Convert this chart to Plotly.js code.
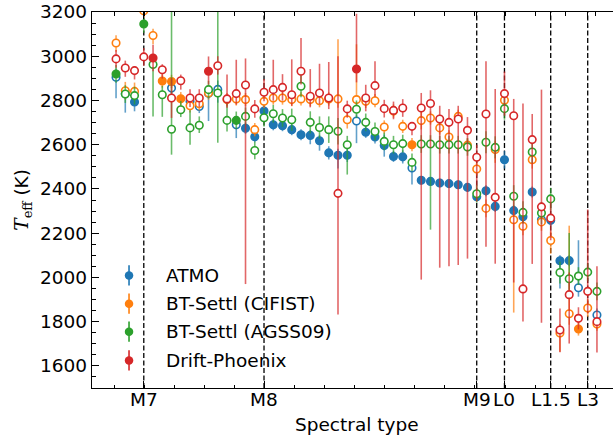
<!DOCTYPE html>
<html><head><meta charset="utf-8">
<script src="https://cdn.plot.ly/plotly-3.0.1.min.js"></script>
<style>html,body{margin:0;padding:0;overflow:hidden;background:#fff;}#chart{width:640px;height:439px;}</style>
</head><body><div id="chart"></div>
<script>
// object index along x (objects sorted by spectral type)
const idx = Array.from({length:53},(_,i)=>i);
const spTickPos = [3,16,39,42,47,51];
const spTickText = ['M7','M8','M9','L0','L1.5','L3'];

const atmo = [2905,2830,2793,null,null,null,2856,null,2796,2773,2832,2850,null,2690,2674,2636,2752,2690,2686,2668,2645,2642,2618,2563,2552,2552,2707,2656,2635,2596,2547,2545,2495,2439,2434,2427,2424,2419,2407,2365,2392,2321,2532,2302,2274,2386,2261,2258,2075,2076,1953,null,1830];
const atmoUp = [40,30,30,0,0,0,30,0,30,30,30,40,0,20,25,25,25,25,25,25,25,25,25,30,30,30,30,25,30,50,25,30,30,20,20,20,20,20,20,20,25,25,40,25,25,25,30,25,25,25,215,0,30];
const atmoDn = [95,85,42,0,0,0,30,0,30,30,125,60,0,60,25,25,25,25,25,25,25,40,45,30,60,30,100,25,30,50,25,30,75,20,20,20,20,20,20,20,25,25,40,25,25,25,30,25,125,25,40,0,30];
const atmoFill = [0,0,1,0,0,0,0,0,0,0,0,0,0,0,1,1,1,1,1,1,1,1,1,1,1,1,0,1,1,1,1,1,0,1,1,1,1,1,1,1,1,1,1,1,1,1,0,1,1,1,0,0,0];

const cif = [3060,2844,2841,3205,3094,2888,2886,2808,2776,2785,2834,null,2804,2807,2804,2668,2796,2811,2811,2804,2807,2804,2799,2807,2807,2713,2804,2796,2799,2680,2752,2683,2600,2709,2721,2676,2635,2728,2598,2490,2312,2578,2801,2261,2231,2532,2251,2167,1749,1836,1767,1862,1789];
const cifUp = [35,40,40,30,30,30,30,30,30,30,30,0,30,30,30,30,30,30,30,30,30,30,30,30,270,40,250,30,30,30,30,30,30,40,30,30,30,30,30,30,40,40,30,40,40,40,40,40,40,398,30,40,30];
const cifDn = [40,40,40,30,40,30,30,30,30,30,30,0,30,30,30,30,30,30,30,30,30,30,30,30,40,40,30,30,30,30,30,30,30,40,30,30,30,30,30,30,40,60,30,420,40,40,40,60,85,50,30,40,30];
const cifFill = [0,0,0,0,0,1,1,1,0,0,0,0,0,0,0,0,0,0,0,0,0,0,0,0,0,0,0,0,0,0,0,0,1,0,0,0,0,0,0,0,0,0,0,0,0,0,0,0,0,0,1,0,0];

const ags = [2920,2829,2822,3146,2963,2826,2670,2758,2676,2688,2849,2834,2710,2710,2728,2574,2722,2740,2721,2713,2864,2701,2678,2668,2661,2600,2760,2701,2660,2615,2600,2605,2520,2603,2603,2600,2600,2600,2590,2378,2611,2588,2763,2367,2294,2567,2291,2355,2022,1994,2006,2024,1937];
const agsUp = [40,40,40,27,40,40,530,40,80,40,40,370,80,40,40,40,40,40,40,50,50,50,50,60,60,40,40,40,40,40,40,40,40,40,40,40,40,40,40,40,50,50,50,50,50,50,50,50,50,207,40,40,40];
const agsDn = [40,40,40,40,235,100,115,33,76,35,40,225,50,40,40,40,40,40,40,50,50,50,50,60,60,135,40,40,40,40,40,40,40,40,387,40,40,40,40,40,50,50,50,50,50,50,50,50,50,50,40,40,40];
const agsFill = [1,0,0,1,0,0,0,0,0,0,0,0,0,1,0,0,0,0,0,0,0,0,0,0,0,0,0,0,0,0,0,0,0,0,0,0,0,0,0,0,0,0,0,0,0,0,0,0,0,0,0,0,0];

const dp = [2988,2947,2935,2997,2992,2939,2811,2889,2811,2811,2932,2957,2807,2831,2870,2762,2837,2849,2859,2826,2932,2819,2834,2811,2380,2762,2942,2811,2867,2763,2755,2766,2683,2766,2786,2716,2701,2716,2665,2543,2739,2362,2831,2731,1948,2623,2319,2268,1762,1922,1815,1937,1800];
const dpUp = [40,33,20,40,60,25,90,28,40,40,67,43,110,153,120,40,60,135,60,160,150,123,132,163,620,37,250,60,110,40,40,40,20,68,60,60,60,60,60,57,238,490,100,76,838,116,530,100,97,100,50,370,250];
const dpDn = [40,40,40,40,60,40,90,40,40,40,60,40,40,50,900,40,40,50,60,50,60,50,50,50,548,40,60,60,50,40,40,40,40,776,200,672,651,660,580,200,600,300,100,754,147,562,524,100,100,221,50,100,139];
const dpFill = [0,0,0,0,1,0,0,0,0,0,1,0,0,0,0,0,0,0,0,0,0,0,0,0,0,0,1,0,0,0,0,0,0,0,0,0,0,0,0,0,0,0,0,0,0,0,0,0,0,0,0,0,0];

const names = ['ATMO','BT-Settl (CIFIST)','BT-Settl (AGSS09)','Drift-Phoenix'];
const colors = ['#1f77b4','#ff7f0e','#2ca02c','#d62728'];
const barColors = ['rgba(31,119,180,0.7)','rgba(255,127,14,0.7)','rgba(44,160,44,0.7)','rgba(214,39,40,0.7)'];
const series = [[atmo,atmoUp,atmoDn,atmoFill],[cif,cifUp,cifDn,cifFill],[ags,agsUp,agsDn,agsFill],[dp,dpUp,dpDn,dpFill]];

const traces = series.map((s,k)=>({
  type:'scatter', mode:'markers', x:idx, y:s[0], name:names[k], showlegend:false,
  marker:{symbol:'circle', size:7.5, color:s[3].map(f=>f?colors[k]:'#ffffff'), line:{color:colors[k], width:1.6}},
  error_y:{type:'data', symmetric:false, array:s[1], arrayminus:s[2], color:barColors[k], thickness:1.6, width:0},
  hoverinfo:'skip'
}));

// manual legend on an overlay axis (fractions of the plot area)
const legY = [0.2995,0.2242,0.1497,0.0734];
names.forEach((n,k)=>{
  traces.push({type:'scatter', mode:'markers', xaxis:'x2', yaxis:'y2', x:[0.07], y:[legY[k]], showlegend:false,
    marker:{symbol:'circle', size:8.5, color:colors[k], line:{width:0}},
    error_y:{type:'data', array:[0.027], color:colors[k], thickness:1.6, width:0}, hoverinfo:'skip'});
});
const axFont = {family:'DejaVu Sans', size:18.5, color:'#000'};
const annotations = names.map((n,k)=>({xref:'paper', yref:'paper', x:0.136, y:legY[k], xanchor:'left', yanchor:'middle',
  text:n, showarrow:false, font:axFont}));
// spectral-type tick labels, placed at the tick positions on the x scale
spTickPos.forEach((v,k)=>annotations.push({xref:'x', yref:'paper', x:v, y:-0.031, xanchor:'center', yanchor:'middle',
  text:spTickText[k], showarrow:false, font:axFont}));
annotations.push({xref:'paper', yref:'paper', x:0.5, y:-0.098, xanchor:'center', yanchor:'middle', text:'Spectral type',
  showarrow:false, font:axFont});
annotations.push({xref:'paper', yref:'paper', x:-0.131, y:0.5, xanchor:'center', yanchor:'middle', textangle:-90,
  text:"<span style=\"font-family:'DejaVu Serif'\"><i>T</i><sub>eff</sub></span> (K)",
  showarrow:false, font:axFont});

const shapes = spTickPos.map(v=>({type:'line', xref:'x', yref:'paper', x0:v, x1:v, y0:0, y1:1, layer:'below',
  line:{color:'#000', width:1.3, dash:'5px,2.5px'}}));

const layout = {
  width:640, height:439, margin:{l:92, r:19, t:12, b:51},
  paper_bgcolor:'#fff', plot_bgcolor:'#fff', showlegend:false,
  xaxis:{range:[-2.6,54.6], tickmode:'array', tickvals:spTickPos, ticktext:spTickText, showticklabels:false,
    ticks:'inside', ticklen:7, tickwidth:1, tickcolor:'#000',
    showline:true, linecolor:'#000', linewidth:1.2, mirror:'allticks', showgrid:false, zeroline:false, tickfont:axFont,
    minor:{tickmode:'linear', tick0:-0.216, dtick:3.252, ticks:'inside', ticklen:3.5, tickcolor:'#000', showgrid:false}},
  yaxis:{range:[1500,3200], tickmode:'linear', tick0:0, dtick:200, ticks:'inside', ticklen:7, tickwidth:1, tickcolor:'#000',
    showline:true, linecolor:'#000', linewidth:1.2, mirror:'allticks', showgrid:false, zeroline:false, tickfont:axFont,
    minor:{tickmode:'linear', tick0:0, dtick:50, ticks:'inside', ticklen:3.5, tickcolor:'#000', showgrid:false}},
  xaxis2:{overlaying:'x', range:[0,1], visible:false, fixedrange:true},
  yaxis2:{overlaying:'y', range:[0,1], visible:false, fixedrange:true},
  shapes:shapes, annotations:annotations
};
Plotly.newPlot('chart', traces, layout, {staticPlot:true, displayModeBar:false});
</script></body></html>
